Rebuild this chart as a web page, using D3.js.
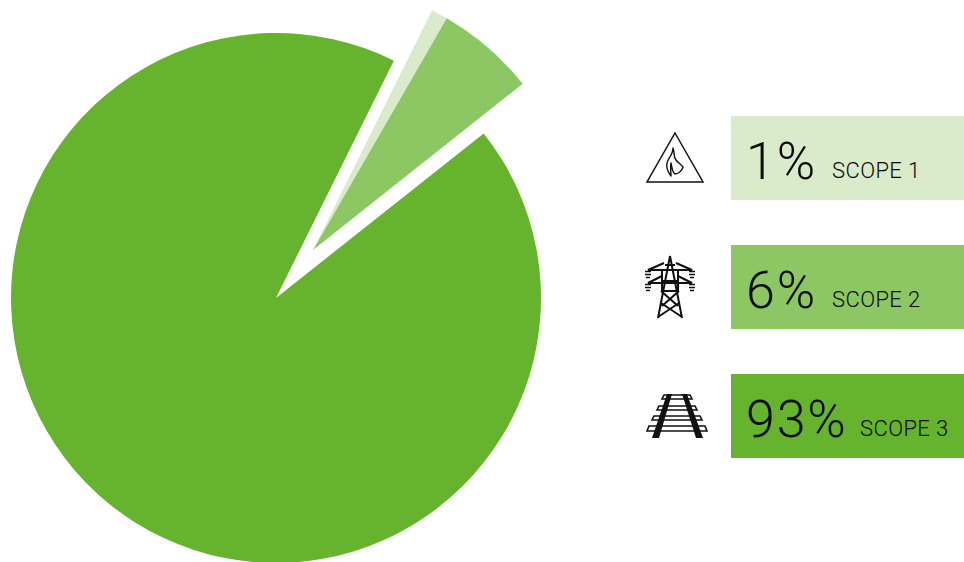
<!DOCTYPE html>
<html>
<head>
<meta charset="utf-8">
<script src="https://cdn.jsdelivr.net/npm/d3@7/dist/d3.min.js"></script>
<style>
html,body{margin:0;padding:0;background:#fff;overflow:hidden}
svg{display:block}
text{font-family:"Roboto",sans-serif;fill:#0a0a0a}
</style>
</head>
<body>
<svg id="chart" width="964" height="562"></svg>
<script>
// Emissions share by scope
const scopes = ["SCOPE 1", "SCOPE 2", "SCOPE 3"];
const shares = [1, 6, 93];
const colours = ["#d9ebcb", "#8dc764", "#66b32e"];
const detached = [true, true, false];

const width = 964, height = 562;
const svg = d3.select("#chart").attr("viewBox", [0, 0, width, height]);

// Pie: the two smaller slices are pulled out along a shared offset
const centre = [276, 298];
const radius = 265;
const detachedRadius = 267.5;
const explode = [37, -48];
const startDeg = 26.4;

const pie = d3.pie().sort(null)
  .startAngle(startDeg * Math.PI / 180)
  .endAngle((startDeg + 360) * Math.PI / 180);
const arc = d3.arc().innerRadius(0)
  .outerRadius(d => detached[d.index] ? detachedRadius : radius);

svg.append("g").attr("transform", `translate(${centre})`)
  .selectAll("path")
  .data(pie(shares))
  .join("path")
  .attr("d", arc)
  .attr("fill", (d, i) => colours[i])
  .attr("transform", (d, i) => detached[i] ? `translate(${explode})` : null);

// Legend rows
const rowY = d3.scaleBand().domain(scopes).range([116, 458]).paddingInner(45 / 129);
const boxX = 731, boxW = 233;
const rows = svg.append("g").selectAll("g").data(scopes).join("g")
  .attr("transform", d => `translate(${boxX},${rowY(d)})`);

rows.append("rect")
  .attr("width", boxW)
  .attr("height", rowY.bandwidth())
  .attr("fill", (d, i) => colours[i]);

rows.append("text")
  .attr("x", 15)
  .attr("y", 62.5)
  .attr("font-size", 52)
  .attr("font-weight", 300)
  .attr("letter-spacing", 1.8)
  .text((d, i) => shares[i] + "%");

const nameX = [101, 101, 129];
rows.append("text")
  .attr("x", (d, i) => nameX[i])
  .attr("y", 62)
  .attr("font-size", 22)
  .attr("font-weight", 300)
  .attr("letter-spacing", 0.4)
  .text(d => d);

// Scope icons, each drawn in its own local coordinates
const fireIcon = svg.append("g").attr("transform", "translate(647,133)")
  .attr("fill", "none").attr("stroke", "#111");
fireIcon.append("path").attr("stroke-width", 1.5).attr("d", "M28 0L56 49H0Z");
fireIcon.append("path").attr("stroke-width", 1.4).attr("stroke-linejoin", "round")
  .attr("d", "M26 15C28 20 26 24 29 27C31 30 34 31 36 34C35 38 31 41 28 41C25 39 25 34 24 30C23 34 24 38 24 43C21 39 19 34 20 30C21 25 26 22 26 15Z");

const towerIcon = svg.append("g").attr("transform", "translate(670,256)")
  .attr("fill", "none").attr("stroke", "#111").attr("stroke-width", 2);
towerIcon.append("path").attr("d",
  "M0 0L-12 62M0 0L12 62" +
  "M-5 9H5M-8 14H8M-9 25H9M-9 35H9" +
  "M-6 7L-22 14H22L6 7M-8 20L-22 27H22L8 20" +
  "M-8 14V35M8 14V35" +
  "M-9 35L8 50M9 35L-8 50M-12 61L9 47M12 61L-9 47");
towerIcon.selectAll("path.ins").data([-22, 22]).join("path")
  .attr("class", "ins")
  .attr("stroke-width", 1.7)
  .attr("d", x => `M${x - 3} 15.5H${x + 3}M${x - 3} 18.5H${x + 3}M${x - 2} 21.5H${x + 2}M${x - 3} 28.5H${x + 3}M${x - 3} 31.5H${x + 3}M${x - 2} 34.5H${x + 2}`);

const railIcon = svg.append("g").attr("transform", "translate(677,394)");
railIcon.append("path")
  .attr("fill", "none").attr("stroke", "#111").attr("stroke-width", 1.6)
  .attr("d", "M-13 1H13L15 5H-15ZM-18 12H18L20 16H-20ZM-23 22H23L25 26H-25ZM-28 32H28L30 37H-30Z");
railIcon.append("path")
  .attr("fill", "#111")
  .attr("d", "M-10 0H-5L-18 44H-25ZM5 0H10L26 44H19Z");
</script>
</body>
</html>
